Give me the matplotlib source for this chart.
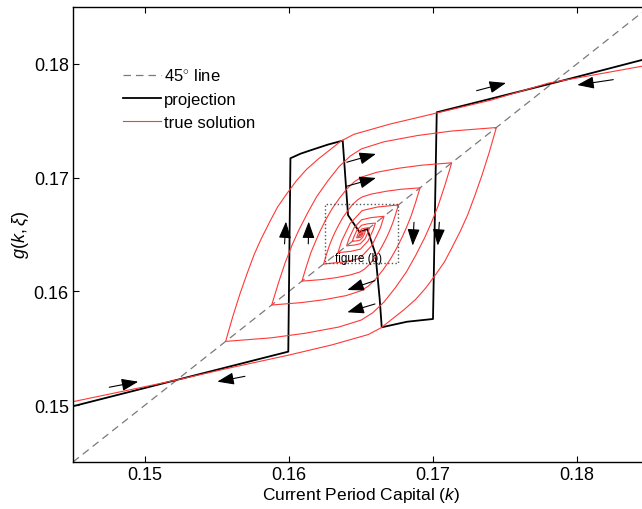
import matplotlib.pyplot as plt

plt.rcParams['font.family'] = ['Liberation Sans', 'DejaVu Sans']
plt.rcParams['mathtext.fontset'] = 'custom'
plt.rcParams['mathtext.it'] = 'Liberation Sans:italic'
plt.rcParams['mathtext.rm'] = 'Liberation Sans'

# 45 degree line
diag = [0.145, 0.185]

# projection (black)
proj_k = [0.145, 0.15995, 0.1601, 0.1608, 0.1615, 0.1627, 0.16373, 0.1641, 0.1649, 0.16544,
          0.1660, 0.1663, 0.16644, 0.1682, 0.1700, 0.17026, 0.178, 0.185]
proj_g = [0.1499, 0.1547, 0.1717, 0.1721, 0.1724, 0.1729, 0.17325, 0.1667, 0.1652, 0.16548,
          0.1633, 0.1593, 0.15684, 0.15733, 0.15757, 0.17574, 0.1782, 0.1805]

# true solution, branch starting from the low tail
sol_a_k = [0.145, 0.152, 0.156, 0.160, 0.163, 0.1655, 0.1664, 0.1672, 0.1680, 0.1688, 0.1695, 0.1702,
           0.1708, 0.1713, 0.1719, 0.1724, 0.1729, 0.1734, 0.1739, 0.1744,
           0.17128, 0.16894, 0.1666, 0.16504, 0.16426, 0.16348, 0.1627, 0.16192, 0.16130, 0.16067,
           0.16020, 0.15974, 0.15927, 0.1588,
           0.16086, 0.16241, 0.16395, 0.16498, 0.16550, 0.16601, 0.16653, 0.16704, 0.16745, 0.16786,
           0.16817, 0.16848, 0.16879, 0.1691,
           0.16776, 0.16676, 0.16575, 0.16508, 0.16475, 0.16441, 0.16408, 0.16374, 0.16347, 0.16320,
           0.16300, 0.16280, 0.16260, 0.1624,
           0.16387, 0.16492, 0.16576, 0.16635, 0.1666,
           0.16569, 0.16504, 0.16452, 0.16416, 0.1640,
           0.16456, 0.16496, 0.16528, 0.16550, 0.1656,
           0.16529, 0.16506, 0.16488, 0.16475, 0.1647,
           0.16497, 0.16506, 0.16515, 0.16502, 0.1650]
sol_a_g = [0.1503, 0.15215, 0.1533, 0.1544, 0.1553, 0.1562, 0.1568, 0.1576, 0.1584, 0.1593, 0.1603, 0.1615,
           0.1626, 0.1638, 0.1653, 0.1667, 0.1684, 0.1702, 0.1722, 0.1744,
           0.17409, 0.17370, 0.17315, 0.17253, 0.17190, 0.17097, 0.16972, 0.16832, 0.16691, 0.16535,
           0.16403, 0.16254, 0.16075, 0.1588,
           0.15901, 0.15926, 0.15962, 0.16004, 0.16045, 0.16107, 0.16189, 0.16282, 0.16374, 0.16477,
           0.16565, 0.16663, 0.16781, 0.1691,
           0.16897, 0.16880, 0.16856, 0.16830, 0.16803, 0.16763, 0.16709, 0.16649, 0.16588, 0.16521,
           0.16465, 0.16401, 0.16324, 0.1624,
           0.16259, 0.16290, 0.16404, 0.16559, 0.1666,
           0.16648, 0.16629, 0.16559, 0.16462, 0.1640,
           0.16407, 0.16419, 0.16462, 0.16522, 0.1656,
           0.16556, 0.16549, 0.16525, 0.16492, 0.1647,
           0.16475, 0.16488, 0.16515, 0.16510, 0.1650]

# true solution, branch starting from the high tail
sol_b_k = [0.185, 0.178, 0.174, 0.170, 0.167, 0.1645, 0.1636, 0.1628, 0.1620, 0.1612, 0.1605, 0.1598,
           0.1592, 0.1587, 0.1581, 0.1576, 0.1571, 0.1566, 0.1561, 0.1556,
           0.15874, 0.16110, 0.16345, 0.16502, 0.16581, 0.16659, 0.16738, 0.16816, 0.16879, 0.16942,
           0.16989, 0.17036, 0.17083, 0.1713,
           0.16922, 0.16766, 0.1661, 0.16506, 0.16454, 0.16402, 0.16350, 0.16298, 0.16256, 0.16215,
           0.16184, 0.16152, 0.16121, 0.1609,
           0.16224, 0.16325, 0.16425, 0.16492, 0.16526, 0.16559, 0.16593, 0.16626, 0.16653, 0.16680,
           0.16700, 0.16720, 0.16740, 0.1676,
           0.16613, 0.16508, 0.16424, 0.16365, 0.1634,
           0.16431, 0.16496, 0.16548, 0.16584, 0.1660,
           0.16544, 0.16504, 0.16472, 0.16450, 0.1644,
           0.16472, 0.16494, 0.16512, 0.16525, 0.1653,
           0.16503, 0.16494, 0.16485, 0.16498, 0.1650]
sol_b_g = [0.1799, 0.1783, 0.1768, 0.1756, 0.1747, 0.1738, 0.1732, 0.1724, 0.1716, 0.1707, 0.1697, 0.1685,
           0.1674, 0.1662, 0.1647, 0.1633, 0.1616, 0.1598, 0.1578, 0.1556,
           0.15591, 0.15631, 0.15686, 0.15748, 0.15811, 0.15905, 0.16031, 0.16172, 0.16314, 0.16471,
           0.16604, 0.16753, 0.16934, 0.1713,
           0.17109, 0.17083, 0.17047, 0.17005, 0.16964, 0.16901, 0.16818, 0.16724, 0.16631, 0.16527,
           0.16438, 0.16340, 0.16220, 0.1609,
           0.16103, 0.16120, 0.16144, 0.16170, 0.16197, 0.16237, 0.16291, 0.16351, 0.16412, 0.16479,
           0.16536, 0.16599, 0.16676, 0.1676,
           0.16741, 0.16710, 0.16596, 0.16441, 0.1634,
           0.16352, 0.16371, 0.16441, 0.16538, 0.1660,
           0.16593, 0.16581, 0.16538, 0.16478, 0.1644,
           0.16444, 0.16451, 0.16475, 0.16508, 0.1653,
           0.16525, 0.16512, 0.16485, 0.16490, 0.1650]

# direction arrows: start -> tip
arrow_k0 = [0.14752, 0.15694, 0.17303, 0.18252, 0.15969, 0.16134, 0.16868, 0.17044, 0.16401, 0.16401, 0.16597, 0.16597]
arrow_g0 = [0.15157, 0.15253, 0.17764, 0.17861, 0.16417, 0.16417, 0.16607, 0.16607, 0.17135, 0.16924, 0.16094, 0.15889]
arrow_k1 = [0.14953, 0.15502, 0.17507, 0.18002, 0.15979, 0.16137, 0.16859, 0.17033, 0.16604, 0.16604, 0.16405, 0.16405]
arrow_g1 = [0.15206, 0.15206, 0.17832, 0.17814, 0.16613, 0.16613, 0.16402, 0.16402, 0.17208, 0.16997, 0.16012, 0.15816]

# dotted zoom box for figure (b)
box_k = [0.1625, 0.1676]
box_g = [0.1625, 0.1677]

fig = plt.figure(figsize=(6.42, 5.1), dpi=100)
ax = fig.add_axes([0.1137, 0.0922, 0.8972, 0.8922])

ax.plot(diag, diag, '--', color='#7a7a7a', lw=0.9, dashes=(6, 4), label=r'45$^{\circ}$ line')
ax.plot(proj_k, proj_g, color='black', lw=1.3, label='projection')
ax.plot(sol_a_k, sol_a_g, color='#ff3838', lw=0.8, label='true solution')
ax.plot(sol_b_k, sol_b_g, color='#ff3838', lw=0.8)

ax.plot([box_k[0], box_k[1], box_k[1], box_k[0], box_k[0]],
        [box_g[0], box_g[0], box_g[1], box_g[1], box_g[0]],
        ':', color='#555555', lw=1.0)
ax.text(0.1648, 0.1629, 'figure (b)', fontsize=8.5, ha='center', va='center')

for k0, g0, k1, g1 in zip(arrow_k0, arrow_g0, arrow_k1, arrow_g1):
    ax.annotate('', xy=(k1, g1), xytext=(k0, g0),
                arrowprops=dict(arrowstyle='-|>,head_length=0.6,head_width=0.22',
                                color='black', lw=0.8, mutation_scale=17,
                                shrinkA=0, shrinkB=0))

ax.set_xlim(0.145, 0.185)
ax.set_ylim(0.145, 0.185)
ax.set_xticks([0.15, 0.16, 0.17, 0.18])
ax.set_yticks([0.15, 0.16, 0.17, 0.18])
ax.set_xticklabels(['0.15', '0.16', '0.17', '0.18'])
ax.set_yticklabels(['0.15', '0.16', '0.17', '0.18'])
ax.tick_params(direction='in', length=4, width=0.8, labelsize=13, pad=3,
               top=True, right=True)
for s in ax.spines.values():
    s.set_linewidth(1.0)

ax.set_xlabel(r'Current Period Capital ($k$)', fontsize=12.5, labelpad=1)
ax.set_ylabel(r'$g(k,\xi)$', fontsize=13, labelpad=2)

ax.legend(loc='upper left', bbox_to_anchor=(0.06, 0.90), frameon=False,
          fontsize=12, handlelength=2.3, handletextpad=0.2, labelspacing=0.5)

plt.savefig('out.png', dpi=100)
